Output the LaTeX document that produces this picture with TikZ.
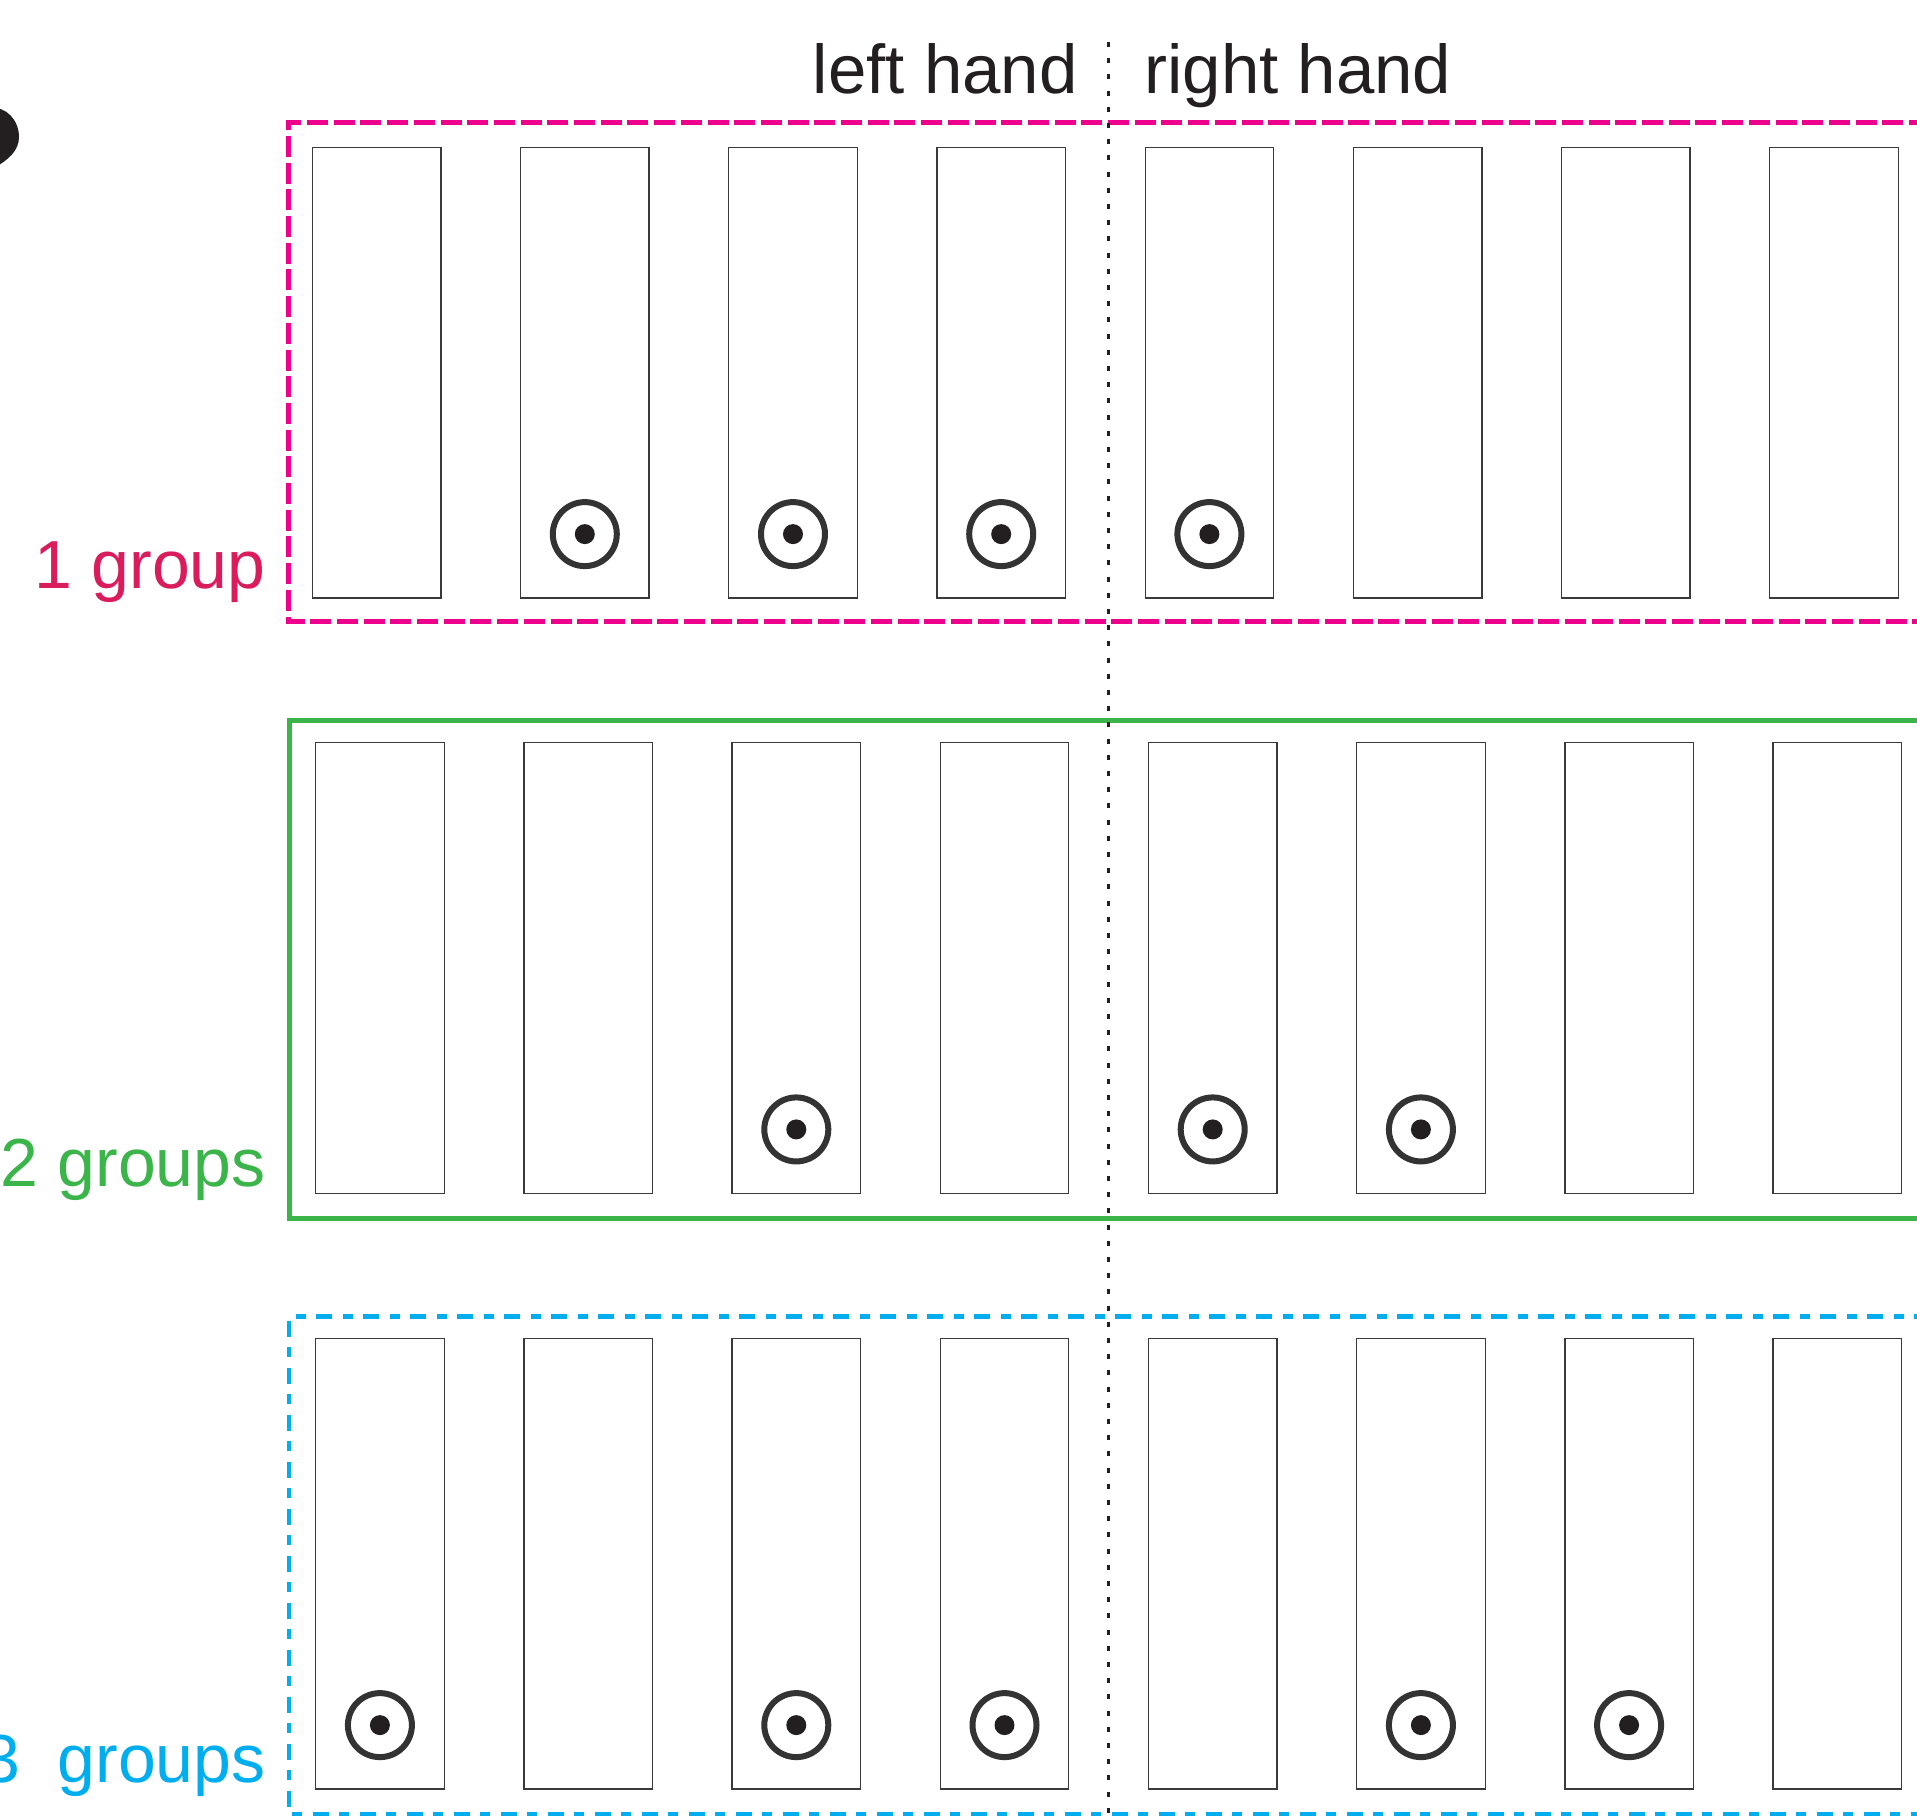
\documentclass[tikz,border=0pt]{standalone}
\usepackage{fontspec}
\setmainfont{Liberation Sans}

\definecolor{ink}{HTML}{231F20}
\definecolor{keyline}{HTML}{3A3A3A}
\definecolor{ringgray}{HTML}{333333}
\definecolor{magentaframe}{HTML}{EC008C}
\definecolor{grouppink}{HTML}{DA1C5C}
\definecolor{groupgreen}{HTML}{3BB54A}
\definecolor{groupcyan}{HTML}{00AEEF}

\begin{document}
\begin{tikzpicture}[x=0.5pt,y=-0.5pt,
  key/.style={draw=keyline, line width=0.65pt, minimum width=64.25pt,
    minimum height=225.3pt, inner sep=0pt, anchor=north west},
  ring/.style={circle, draw=ringgray, line width=3pt, minimum size=32pt, inner sep=0pt},
  fingerdot/.style={circle, fill=ink, minimum size=10pt, inner sep=0pt},
  grouplabel/.style={font=\fontsize{34}{40}\selectfont, inner sep=0pt, anchor=base east},
  handlabel/.style={font=\fontsize{34.5}{40}\selectfont, inner sep=0pt, text=ink},
  frameone/.style={magentaframe, line width=2.5pt, dash pattern=on 10.5pt off 2.85pt},
  frametwo/.style={groupgreen, line width=2.5pt},
  framethree/.style={groupcyan, line width=2.35pt,
    dash pattern=on 8pt off 5.25pt on 5pt off 5.25pt},
  divider/.style={ink, line width=1.35pt, dash pattern=on 2.5pt off 5.6pt}]

\useasboundingbox (0,0) rectangle (1917,1817);
\clip (0,0) rectangle (1917,1817);

% dark shape at the upper left edge
\fill[ink] (-10,108) .. controls (6,106) and (19,120) .. (19,137)
  .. controls (19,151) and (8,160) .. (-6,168) -- cycle;

% group frames, open to the right
\draw[frameone] (1930,122) -- (288.5,122) -- (288.5,621.5) -- (1930,621.5);
\draw[frametwo] (1930,720) -- (289,720) -- (289,1218) -- (1930,1218);
\draw[framethree] (1930,1316.5) -- (289,1316.5) -- (289,1814) -- (1930,1814);

% eight keys per row
\foreach \r/\x/\t in {1/311.7/146.7, 2/315/742, 3/315/1337.7} {
  \foreach \c in {1,...,8} {
    \node[key] (k\r-\c) at ({\x+(\c-1)*208.2},\t) {};
  }
}

% finger markers
\foreach \r/\c in {1/2,1/3,1/4,1/5,2/3,2/5,2/6,3/1,3/3,3/4,3/6,3/7} {
  \node[ring] (m\r-\c) at ([yshift=32.25pt]k\r-\c.south) {};
  \node[fingerdot] (d\r-\c) at (m\r-\c) {};
}

% group labels
\node[grouplabel, text=grouppink] (g1) at (266,588) {1 group};
\node[grouplabel, text=groupgreen] (g2) at (266,1186) {2 groups};
\node[grouplabel, text=groupcyan] (g3) at (266,1782) {3\ \ groups};

% hand labels and the dividing line
\node[handlabel, anchor=base east] (lh) at (1078,93) {left hand};
\node[handlabel, anchor=base west] (rh) at (1144,93) {right hand};
\coordinate (divtop) at (1108.7,42);
\coordinate (divbot) at (1108.7,1817);
\draw[divider] (divtop) -- (divbot);

\end{tikzpicture}
\end{document}
